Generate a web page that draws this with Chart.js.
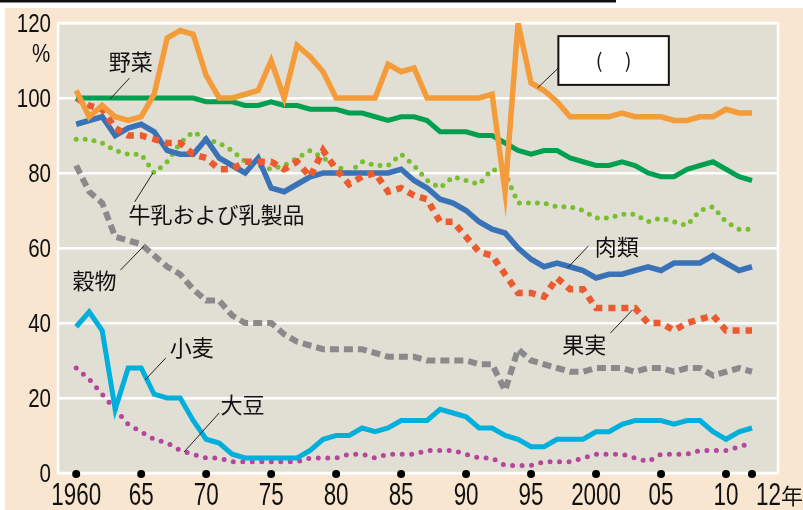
<!DOCTYPE html>
<html>
<head>
<meta charset="utf-8">
<script src="https://cdn.jsdelivr.net/npm/chart.js@4"></script>
<style>
html, body { margin: 0; padding: 0; background: #fff; }
canvas { display: block; }
</style>
</head>
<body>
<canvas id="chart" width="803" height="510"></canvas>
<script>
// 品目別自給率（重量ベース） 1960〜2012年
const years = [1960,1961,1962,1963,1964,1965,1966,1967,1968,1969,
  1970,1971,1972,1973,1974,1975,1976,1977,1978,1979,
  1980,1981,1982,1983,1984,1985,1986,1987,1988,1989,
  1990,1991,1992,1993,1994,1995,1996,1997,1998,1999,
  2000,2001,2002,2003,2004,2005,2006,2007,2008,2009,
  2010,2011,2012];

const rice = [102,95,98,95,94,95,101,116,118,117,
  106,100,100,101,102,110,100,114,111,107,
  100,100,100,100,109,107,108,100,100,100,
  100,100,101,75,120,104,102,99,95,95,
  95,95,96,95,95,95,94,94,95,95,
  97,96,96];
const vegetables = [100,100,100,100,100,100,100,100,100,100,
  99,99,99,98,98,99,98,98,97,97,
  97,96,96,95,94,95,95,94,91,91,
  91,90,90,88,86,85,86,86,84,83,
  82,82,83,82,80,79,79,81,82,83,
  81,79,78];
const fruit = [100,98,97,92,90,90,89,88,88,85,
  84,81,81,83,83,83,81,83,79,86,
  81,77,79,80,75,76,74,73,67,67,
  63,59,58,53,48,48,47,52,49,49,
  44,44,44,44,40,40,38,40,41,42,
  38,38,38];
const meat = [93,94,95,90,92,93,91,86,85,85,
  89,84,82,80,84,76,75,77,79,80,
  80,80,80,80,80,81,78,76,73,72,
  70,67,65,64,60,57,55,56,55,54,
  52,53,53,54,55,54,56,56,56,58,
  56,54,55];
const milk = [89,89,88,86,85,85,80,83,88,91,
  89,88,86,83,82,81,82,84,86,84,
  82,80,83,82,82,85,82,78,76,79,
  78,77,81,80,72,72,72,71,71,70,
  68,68,69,69,67,68,67,66,70,71,
  67,65,65];
const grains = [82,75,72,63,62,61,58,55,53,49,
  46,46,42,40,40,40,37,35,34,33,
  33,33,33,32,31,31,31,30,30,30,
  30,29,29,22,33,30,29,28,27,27,
  28,28,28,27,28,28,27,28,28,26,
  27,28,27];
const wheat = [39,43,38,17,28,28,21,20,20,14,
  9,8,5,4,4,4,4,4,6,9,
  10,10,12,11,12,14,14,14,17,16,
  15,12,12,10,9,7,7,9,9,9,
  11,11,13,14,14,14,13,14,14,11,
  9,11,12];
const soybeans = [28,25,21,17,13,11,9,8,6,5,
  4,4,3,3,3,3,3,3,4,4,
  4,5,5,4,5,5,5,6,6,6,
  5,4,4,2,2,2,3,3,3,4,
  5,5,5,4,3,5,5,5,6,6,
  6,7,8];

const yTicks = [0,20,40,60,80,100,120];
const xTicks = [1960,1965,1970,1975,1980,1985,1990,1995,2000,2005,2010];
const xTickLabels = ['1960','65','70','75','80','85','90','95','2000','05','10'];
const dotYears = [1960,1965,1970,1975,1980,1985,1990,1995,2000,2005,2010,2012];

// 注記（データ座標で位置を指定）
const notes = [
  {text:'野菜', at:[1964.2,109.6], line:[[1964.1,105.3],[1962.6,99.7]]},
  {text:'牛乳および乳製品', at:[1970.8,68.8], line:[[1965.9,80],[1964.5,72.3]]},
  {text:'穀物', at:[1961.4,51.2], line:[[1965.2,60.5],[1963.4,54.1]]},
  {text:'肉類', at:[2001.6,60.3], line:[[1999.4,60.5],[1997.8,54.7]]},
  {text:'果実', at:[1999.1,34.1], line:[[2002.8,43.5],[2001.1,37.3]]},
  {text:'小麦', at:[1968.9,33.3], line:[[1966.9,30.7],[1965.3,24.8]]},
  {text:'大豆', at:[1972.8,18.1], line:[[1971,16],[1968.3,5.6]]}
];
const blankBox = {corners:[[1997.1,116.5],[2005.6,103.5]], line:[[1997.1,108],[1995.5,102.7]]};

const numFont = "'Liberation Sans', Arial, sans-serif";
const jpFont = "'Noto Sans CJK JP', 'Noto Sans', sans-serif";

const pts = arr => years.map((y, i) => ({x: y, y: arr[i]}));

// 横に詰めた数字（元図の細い書体に合わせる）
function squeezed(ctx, text, x, y, align, size, sx) {
  ctx.save();
  ctx.translate(x, y);
  ctx.scale(sx, 1);
  ctx.font = size + 'px ' + numFont;
  ctx.textAlign = align;
  ctx.textBaseline = 'middle';
  ctx.fillText(text, 0, 0);
  ctx.restore();
}

const decor = {
  id: 'decor',
  beforeDraw(chart) {
    const {ctx, chartArea: a} = chart;
    ctx.save();
    ctx.fillStyle = '#ffffff';
    ctx.fillRect(0, 0, chart.width, chart.height);
    ctx.fillStyle = '#f8e6d0';
    ctx.fillRect(5, 8, chart.width - 5, chart.height - 8);
    ctx.fillStyle = '#111';
    ctx.fillRect(0, 0, 616, 2.5);
    ctx.fillStyle = '#e1dfd4';
    ctx.fillRect(a.left, a.top, a.right - a.left, a.bottom - a.top);
    ctx.restore();
  },
  beforeDatasetsDraw(chart) {
    const {ctx, chartArea: a} = chart;
    ctx.save();
    ctx.strokeStyle = '#ffffff';
    ctx.lineWidth = 2.5;
    ctx.strokeRect(a.left, a.top, a.right - a.left, a.bottom - a.top);
    ctx.restore();
  },
  afterDatasetsDraw(chart) {
    const {ctx, scales: {x, y}} = chart;
    const px = v => x.getPixelForValue(v);
    const py = v => y.getPixelForValue(v);
    ctx.save();

    // year dots on the axis
    ctx.fillStyle = '#000';
    dotYears.forEach(yr => {
      ctx.beginPath();
      ctx.arc(px(yr), py(0) + 1, 4, 0, Math.PI * 2);
      ctx.fill();
    });

    // leader lines + labels
    ctx.strokeStyle = '#222';
    ctx.lineWidth = 1;
    ctx.fillStyle = '#111';
    ctx.font = '22px ' + jpFont;
    ctx.textAlign = 'center';
    ctx.textBaseline = 'middle';
    notes.forEach(n => {
      ctx.beginPath();
      ctx.moveTo(px(n.line[0][0]), py(n.line[0][1]));
      ctx.lineTo(px(n.line[1][0]), py(n.line[1][1]));
      ctx.stroke();
      ctx.fillText(n.text, px(n.at[0]), py(n.at[1]));
    });

    // blank answer box
    const [c1, c2] = blankBox.corners;
    const bx = px(c1[0]), by = py(c1[1]), bw = px(c2[0]) - bx, bh = py(c2[1]) - by;
    ctx.beginPath();
    ctx.moveTo(px(blankBox.line[0][0]), py(blankBox.line[0][1]));
    ctx.lineTo(px(blankBox.line[1][0]), py(blankBox.line[1][1]));
    ctx.stroke();
    ctx.fillStyle = '#fff';
    ctx.fillRect(bx, by, bw, bh);
    ctx.strokeStyle = '#111';
    ctx.lineWidth = 2;
    ctx.strokeRect(bx, by, bw, bh);
    ctx.fillStyle = '#111';
    ctx.font = '20px ' + jpFont;
    ctx.fillText('(     )', bx + bw / 2, by + bh / 2);

    // axis tick labels, from the scales' own ticks
    y.ticks.forEach(t => squeezed(ctx, String(t.value), y.right - 7, py(t.value) + 2, 'right', 25, 0.82));
    squeezed(ctx, '%', y.right - 17, py(111.5), 'center', 25, 0.82);
    const ly = x.top + 23;
    x.ticks.forEach((t, i) => squeezed(ctx, xTickLabels[i], px(t.value), ly, 'center', 32, 0.7));
    const tx = px(2012) + 4;
    squeezed(ctx, '12', tx, ly, 'left', 32, 0.7);
    ctx.font = '22px ' + jpFont;
    ctx.textAlign = 'left';
    ctx.fillText('年', tx + 25, ly);
    ctx.restore();
  }
};

const chart = new Chart(document.getElementById('chart'), {
  type: 'line',
  data: {
    datasets: [
      {label: '米', data: pts(rice), borderColor: '#f49b3a', borderWidth: 5.5},
      {label: '野菜', data: pts(vegetables), borderColor: '#00a050', borderWidth: 5},
      {label: '果実', data: pts(fruit), borderColor: '#ec5b2f', borderWidth: 6.5, borderDash: [7, 6], borderCapStyle: 'butt'},
      {label: '肉類', data: pts(meat), borderColor: '#3a72b8', borderWidth: 5.5},
      {label: '牛乳および乳製品', data: pts(milk), borderColor: '#78bf30', borderWidth: 5, borderDash: [0, 9], borderCapStyle: 'round'},
      {label: '穀物', data: pts(grains), borderColor: '#8a8a8a', borderWidth: 6, borderDash: [9, 5], borderCapStyle: 'butt'},
      {label: '小麦', data: pts(wheat), borderColor: '#00afdc', borderWidth: 5},
      {label: '大豆', data: pts(soybeans), borderColor: '#b4479c', borderWidth: 5, borderDash: [0, 9.5], borderCapStyle: 'round'}
    ]
  },
  options: {
    responsive: false,
    devicePixelRatio: 1,
    animation: false,
    layout: {padding: {top: 23, right: 25, left: 0, bottom: 0}},
    plugins: {legend: {display: false}, tooltip: {enabled: false}},
    elements: {point: {radius: 0}, line: {tension: 0, fill: false}},
    scales: {
      x: {
        type: 'linear',
        min: 1958.6,
        max: 2014,
        afterBuildTicks: s => { s.ticks = xTicks.map(v => ({value: v})); },
        afterFit: s => { s.height = 37; },
        grid: {display: false, drawTicks: false},
        border: {display: false},
        ticks: {display: false, autoSkip: false, maxRotation: 0}
      },
      y: {
        min: 0,
        max: 120,
        afterBuildTicks: s => { s.ticks = yTicks.map(v => ({value: v})); },
        afterFit: s => { s.width = 58; },
        grid: {color: '#ffffff', lineWidth: 2.5, drawTicks: false},
        border: {display: false},
        ticks: {display: false}
      }
    }
  },
  plugins: [decor]
});
</script>
</body>
</html>
